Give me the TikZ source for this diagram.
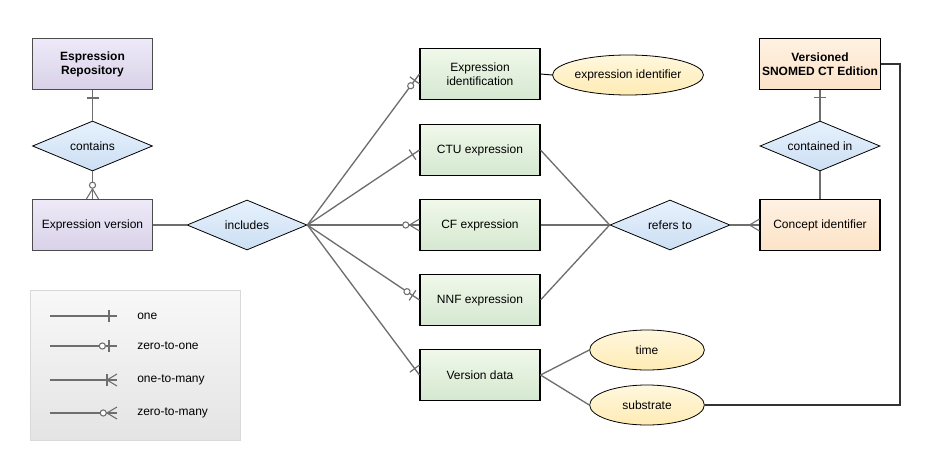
\documentclass[tikz,border=0pt]{standalone}
\usepackage{fontspec}
\setmainfont{Liberation Sans}
\usetikzlibrary{shapes.geometric, decorations.markings}

\definecolor{purpleTop}{HTML}{EEEAF8}
\definecolor{purpleBot}{HTML}{D9D1E8}
\definecolor{greenTop}{HTML}{F0F8EA}
\definecolor{greenBot}{HTML}{D5E8D0}
\definecolor{orangeTop}{HTML}{FFF1E2}
\definecolor{orangeBot}{HTML}{FCE3C8}
\definecolor{blueTop}{HTML}{E6F1FD}
\definecolor{blueBot}{HTML}{CCDFF3}
\definecolor{yellowTop}{HTML}{FFF8DE}
\definecolor{yellowBot}{HTML}{FFEBB4}
\definecolor{legendTop}{HTML}{F8F8F8}
\definecolor{legendBot}{HTML}{E4E4E4}
\definecolor{lineGray}{HTML}{6E6E6E}

\tikzset{
  entity/.style={draw=black, line width=0.8pt, minimum width=90pt, minimum height=38pt,
    inner sep=2pt, align=center, font=\fontsize{9}{10.5}\selectfont},
  purplebox/.style={entity, draw=black!70, line width=1.1pt, top color=purpleTop, bottom color=purpleBot},
  greenbox/.style={entity, top color=greenTop, bottom color=greenBot},
  orangebox/.style={entity, top color=orangeTop, bottom color=orangeBot},
  relation/.style={diamond, draw=black, line width=0.6pt, minimum width=90pt, minimum height=37.5pt,
    inner sep=0pt, aspect=2.4, top color=blueTop, bottom color=blueBot,
    font=\fontsize{9}{10.5}\selectfont},
  attribute/.style={ellipse, draw=black, line width=0.6pt, minimum width=86pt, minimum height=30pt,
    inner sep=0pt, top color=yellowTop, bottom color=yellowBot, font=\fontsize{9}{10.5}\selectfont},
  conn/.style={draw=lineGray, line width=1pt},
  % cardinality marks at the end of a connector
  endone/.style={postaction={decorate, decoration={markings,
    mark=at position -6pt with {\draw[lineGray, line width=0.9pt] (0,-4.5pt) -- (0,4.5pt);}}}},
  endzeroone/.style={postaction={decorate, decoration={markings,
    mark=at position -6pt with {\draw[lineGray, line width=0.9pt] (0,-4.5pt) -- (0,4.5pt);},
    mark=at position -11pt with {\draw[lineGray, line width=0.8pt, fill=white] (0,0) circle (2.3pt);}}}},
  endmany/.style={postaction={decorate, decoration={markings,
    mark=at position -7.5pt with {\draw[lineGray, line width=0.8pt] (7.5pt,4.5pt) -- (0,0) -- (7.5pt,-4.5pt);}}}},
  endonemany/.style={postaction={decorate, decoration={markings,
    mark=at position -7.5pt with {\draw[lineGray, line width=0.8pt] (7.5pt,4.5pt) -- (0,0) -- (7.5pt,-4.5pt);
      \draw[lineGray, line width=0.9pt] (0,-4.5pt) -- (0,4.5pt);}}}},
  endzeromany/.style={postaction={decorate, decoration={markings,
    mark=at position -7.5pt with {\draw[lineGray, line width=0.8pt] (7.5pt,4.5pt) -- (0,0) -- (7.5pt,-4.5pt);},
    mark=at position -10.3pt with {\draw[lineGray, line width=0.8pt, fill=white] (0,0) circle (2.3pt);}}}},
}

\begin{document}
\begin{tikzpicture}[x=0.75pt, y=-0.75pt]
  \useasboundingbox (0,0) rectangle (934,460);

  % Legend panel
  \draw[draw=black!15, top color=legendTop, bottom color=legendBot] (30,290) rectangle (240,440);

  % Left column
  \node[purplebox, font=\fontsize{9}{10.5}\selectfont\bfseries] (repo) at (92.5,64) {Espression\\Repository};
  \node[relation] (contains) at (92.5,146) {contains};
  \node[purplebox] (version) at (92.5,225) {Expression version};
  \node[relation] (includes) at (247,225) {includes};

  % Expression forms
  \node[greenbox] (ident) at (480,74) {Expression\\identification};
  \node[greenbox] (ctu) at (480,150) {CTU expression};
  \node[greenbox] (cf) at (480,225) {CF expression};
  \node[greenbox] (nnf) at (480,300) {NNF expression};
  \node[greenbox] (vdata) at (480,375) {Version data};

  % Attributes
  \node[attribute] (identattr) at (628,75) {expression identifier};
  \node[attribute] (time) at (647,350) {time};
  \node[attribute] (substrate) at (647,405) {substrate};

  % Right column
  \node[relation] (refers) at (670,225) {refers to};
  \node[orangebox] (concept) at (820,225) {Concept identifier};
  \node[relation] (contained) at (820,146) {contained in};
  \node[orangebox, font=\fontsize{9}{10.5}\selectfont\bfseries] (edition) at (820,64) {Versioned\\SNOMED CT Edition};
  \coordinate (rail) at (900,64);

  % Relationships
  \draw[conn, endone] (contains.north) -- (repo.south);
  \draw[conn, endzeromany] (contains.south) -- (version.north);
  \draw[conn] (version.east) -- (includes.west);
  \draw[conn, endzeroone] (includes.east) -- (ident.west);
  \draw[conn, endone] (includes.east) -- (ctu.west);
  \draw[conn, endzeromany] (includes.east) -- (cf.west);
  \draw[conn, endzeroone] (includes.east) -- (nnf.west);
  \draw[conn, endone] (includes.east) -- (vdata.west);
  \draw[conn, draw=black, line width=0.7pt] (ident.east) -- (identattr.west);
  \draw[conn] (ctu.east) -- (refers.west);
  \draw[conn] (cf.east) -- (refers.west);
  \draw[conn] (nnf.east) -- (refers.west);
  \draw[conn, endmany] (refers.east) -- (concept.west);
  \draw[conn] (concept.north) -- (contained.south);
  \draw[conn, endone] (contained.north) -- (edition.south);
  \draw[conn] (vdata.east) -- (time.west);
  \draw[conn] (vdata.east) -- (substrate.west);
  \draw[conn, draw=black!80, line width=0.8pt] (substrate.east) -| (rail) -- (edition.east);

  % Legend entries
  \foreach \y/\lbl/\tip in {316/one/endone, 346/zero-to-one/endzeroone,
      380/one-to-many/endonemany, 413/zero-to-many/endzeromany} {
    \coordinate (lstart) at (50,\y);
    \coordinate (lend) at (117,\y);
    \node[anchor=west, font=\fontsize{9}{10.5}\selectfont, inner sep=0pt] (lab\y) at (137,\y) {\lbl};
    \draw[conn, \tip] (lstart) -- (lend);
  }
\end{tikzpicture}
\end{document}
